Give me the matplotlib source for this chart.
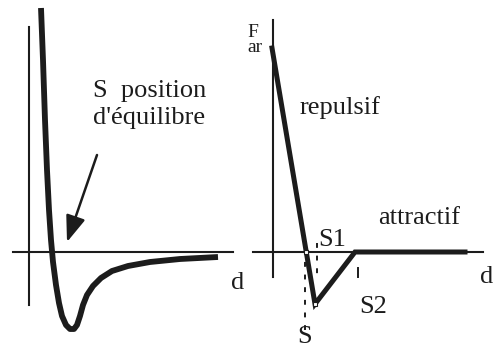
import matplotlib
matplotlib.use("Agg")
import matplotlib.pyplot as plt

# ============================================================
# DATA (arbitrary units)
# ============================================================
# left: potential energy vs distance
pot_d = [1.2, 1.4, 1.6, 1.8, 2.0, 2.2, 2.4, 2.7, 3.0, 3.3, 3.7, 4.1,
         4.5, 4.8, 5.1, 5.4, 5.8, 6.4, 7.2, 8.3, 9.9, 12.1, 15.1, 18.9]
pot_E = [24.4, 19.2, 13.2, 8.2, 4.2, 1.2, -1.0, -3.3, -5.1, -6.4, -7.3, -7.7,
         -7.7, -7.3, -6.4, -5.3, -4.3, -3.4, -2.6, -1.9, -1.4, -1.0, -0.7, -0.5]

# right: linearised force vs distance
force_d = [-0.1, 4.2, 8.2, 19.2]
force_F = [20.4, -5.2, 0.0, 0.0]

# characteristic distances
S, S1, S2 = 3.2, 4.4, 8.5

# ============================================================
# STYLE
# ============================================================
INK = "#1c1c1c"
plt.rcParams["font.family"] = ["Liberation Serif", "DejaVu Serif"]
FS = 19

fig = plt.figure(figsize=(4.93, 3.49), dpi=100)
fig.patch.set_facecolor("white")

YLIM = (-9.7, 25.2)

# ------------------------------------------------------------
# LEFT PANEL
# ------------------------------------------------------------
ax1 = fig.add_axes([0, 0, 0.5, 1])
ax1.set_xlim(-2.9, 21.75)
ax1.set_ylim(*YLIM)
ax1.axis("off")

ax1.plot([0, 0], [-5.3, 22.5], color=INK, lw=1.5)
ax1.plot([-1.6, 20.4], [0, 0], color=INK, lw=1.5)
ax1.plot(pot_d, pot_E, color=INK, lw=4.2, solid_capstyle="butt",
         solid_joinstyle="round")

ax1.annotate("", xy=(3.8, 1.0), xytext=(6.8, 9.7),
             arrowprops=dict(arrowstyle="-|>,head_length=1.6,head_width=0.6",
                             color=INK, lw=1.8, shrinkA=0, shrinkB=0))
ax1.text(6.4, 16.1, "S  position", fontsize=FS, color=INK, va="center", ha="left")
ax1.text(6.4, 13.4, "d'équilibre", fontsize=FS, color=INK, va="center", ha="left")
ax1.text(20.9, -3.1, "d", fontsize=FS, color=INK, va="center", ha="center")

# ------------------------------------------------------------
# RIGHT PANEL
# ------------------------------------------------------------
ax2 = fig.add_axes([0.5, 0, 0.5, 1])
ax2.set_xlim(-2.65, 22.0)
ax2.set_ylim(*YLIM)
ax2.axis("off")

ax2.plot([0, 0], [-2.5, 23.2], color=INK, lw=1.5)
ax2.plot([-2.0, 21.0], [0, 0], color=INK, lw=1.5)
ax2.plot(force_d, force_F, color=INK, lw=3.6, solid_joinstyle="miter")

# dashed markers for S, S1, S2
dash = dict(color=INK, lw=1.4, linestyle=(0, (2.5, 4)))
ax2.plot([S, S], [-7.8, -0.2], **dash)
ax2.plot([S1, S1], [0.9, -2.4], **dash)
ax2.plot([S2, S2], [-1.6, -2.5], color=INK, lw=1.4)

# small open marks at the crossing and the minimum
ax2.plot([3.3, 4.2], [0, -5.2], ls="none", marker="s", ms=3.5,
         mfc="white", mec=INK, mew=0.8)

ax2.text(-2.6, 21.2, "F\nar", fontsize=14, color=INK, va="center", ha="left",
         linespacing=0.8)
ax2.text(6.7, 14.4, "repulsif", fontsize=FS, color=INK, va="center", ha="center")
ax2.text(14.6, 3.4, "attractif", fontsize=FS, color=INK, va="center", ha="center")
ax2.text(5.9, 1.2, "S1", fontsize=FS, color=INK, va="center", ha="center")
ax2.text(10.0, -5.5, "S2", fontsize=FS, color=INK, va="center", ha="center")
ax2.text(3.2, -8.5, "S", fontsize=FS, color=INK, va="center", ha="center")
ax2.text(21.4, -2.5, "d", fontsize=FS, color=INK, va="center", ha="center")

fig.savefig("out.png", dpi=100, facecolor="white")
